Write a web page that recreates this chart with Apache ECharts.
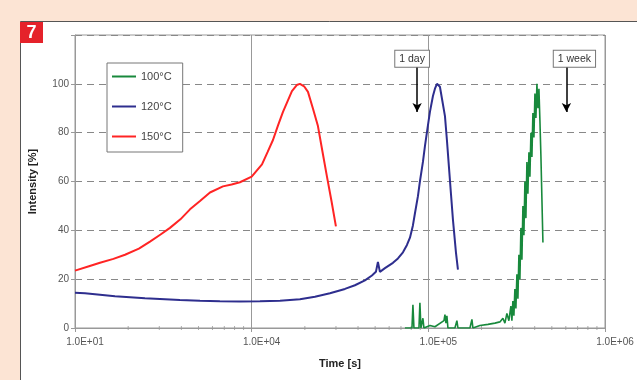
<!DOCTYPE html>
<html>
<head>
<meta charset="utf-8">
<script src="https://cdn.jsdelivr.net/npm/echarts@6/dist/echarts.min.js"></script>
<style>
html,body{margin:0;padding:0;background:#fce4d4;}
#c{width:637px;height:380px;}
</style>
</head>
<body>
<div id="c"></div>
<script>
// ---- data ----
const seriesNames = ['100°C', '120°C', '150°C'];
const seriesColors = ['#18893c', '#2e2e8e', '#ff2424'];

const time100 = [73700, 80800, 81800, 82900, 88500, 89600, 90800, 93200, 94400, 102100, 109000, 122600, 124200, 125800, 127400, 129100, 141400, 145100, 147100, 172000, 176500, 178800, 195900, 217500, 238200, 254200, 264300, 271300, 278400, 285700, 293300, 297200, 301000, 305000, 309000, 313100, 317200, 321400, 325600, 329900, 334200, 338600, 343100, 347500, 352100, 356700, 361400, 366100, 371000, 375800, 380800, 385800, 390800, 396000, 401200, 406400, 411800, 417200, 422700, 428200, 433900, 445300];
const int100 = [0, 0, 9.5, 0, 0, 10.3, 0, 4, 0, 1, 0.5, 3, 5.5, 2, 5, 0, 0, 3, 0, 0, 3.5, 0, 1, 1.5, 2, 2.5, 4, 2, 6, 3, 9, 3, 11, 5, 16, 8, 22, 12, 30, 20, 41, 28, 50, 38, 60, 45, 68, 55, 72, 62, 80, 70, 88, 78, 96, 86, 100, 90, 98, 85, 70, 35];

const time120 = [1000, 1139, 1385, 1684, 2048, 2489, 3027, 3928, 5098, 6615, 8585, 11140, 14460, 18760, 22810, 27740, 33730, 38420, 43770, 47950, 50500, 51840, 53210, 56810, 63060, 67300, 71840, 75690, 78700, 81800, 84000, 87330, 89600, 93200, 95680, 99480, 102100, 106200, 109000, 111900, 116300, 119400, 124200, 127400, 130800, 134300, 137800, 143300, 147100];
const int120 = [14.4, 14.2, 13.6, 13.0, 12.6, 12.2, 11.9, 11.5, 11.2, 11.0, 10.9, 11.0, 11.2, 11.8, 12.8, 14.2, 16.0, 17.5, 19.5, 21.5, 23, 27, 23, 24.5, 26.7, 28.5, 31, 34, 37, 42, 47, 54, 60, 68, 74.5, 83, 88.5, 95, 98, 100, 98.8, 94, 86.8, 77, 66, 55, 44.4, 31, 23.9];

const time150 = [1000, 1200, 1385, 1650, 1919, 2300, 2657, 3050, 3448, 3950, 4476, 5100, 5808, 6879, 7700, 8585, 10000, 11440, 12300, 13200, 14100, 15040, 16000, 16900, 18000, 18760, 19800, 20830, 22200, 23720, 25200, 26680, 28300, 29990];
const int150 = [23.5, 25.3, 26.7, 28.3, 30, 32.5, 35.4, 38.3, 41, 44.5, 48.6, 52, 55.5, 58, 58.8, 59.7, 62, 67, 72, 77, 83, 88.5, 93, 97, 99.5, 100, 99, 96.7, 90, 82.7, 72, 62, 52, 41.6];

const xTickValues = [1000, 10000, 100000, 1000000];
const xTickLabels = ['1.0E+01', '1.0E+04', '1.0E+05', '1.0E+06'];
const minorTickTimes = [2000, 3000, 4000, 5000, 6000, 7000, 8000, 9000, 20000, 30000, 40000, 50000, 60000, 70000, 80000, 90000, 200000, 300000, 400000, 500000, 600000, 700000, 800000, 900000];
const yMin = 0, yMax = 120, yStep = 20;

const noteTexts = ['1 day', '1 week'];
const noteTimes = [86400, 604800];
const noteArrowTop = 107, noteArrowBottom = 88.5, noteBoxLevel = 110.3;

// ---- chart ----
const FONT = '"Liberation Sans", Arial, sans-serif';
const chart = echarts.init(document.getElementById('c'), null, {renderer: 'canvas'});

function pairs(t, v) { return t.map((x, i) => [x, v[i]]); }
const dataSets = [pairs(time100, int100), pairs(time120, int120), pairs(time150, int150)];
const widths = [1.6, 2, 2];

const series = seriesNames.map((n, i) => ({
  name: n, type: 'line', data: dataSets[i], showSymbol: false, symbol: 'none',
  lineStyle: {color: seriesColors[i], width: widths[i]}, itemStyle: {color: seriesColors[i]},
  z: 3, animation: false
}));

series.push({
  name: 'minor', type: 'scatter', data: minorTickTimes.map(t => [t, 0]),
  symbol: 'rect', symbolSize: [1, 4], itemStyle: {color: '#999'}, clip: false,
  silent: true, z: 1, animation: false
});

series.push({
  name: 'notes', type: 'line', data: [], animation: false,
  markLine: {
    silent: true, symbol: ['none', 'arrow'], symbolSize: [7, 9],
    lineStyle: {color: '#000', width: 1.5, type: 'solid'}, label: {show: false},
    data: noteTimes.map(t => [{coord: [t, noteArrowTop]}, {coord: [t, noteArrowBottom]}])
  },
  markPoint: {
    silent: true, symbol: 'rect', symbolSize: 0,
    data: noteTimes.map((t, i) => ({
      coord: [t, noteBoxLevel],
      label: {
        show: true, formatter: noteTexts[i], position: 'inside',
        offset: [i === 0 ? -5 : 8, 0],
        color: '#333', fontSize: 10.5, fontFamily: FONT,
        backgroundColor: '#fff', borderColor: '#777', borderWidth: 1, padding: [3, 4, 2, 4]
      }
    }))
  }
});

chart.setOption({
  backgroundColor: 'transparent',
  animation: false,
  textStyle: {fontFamily: FONT},
  graphic: [
    {type: 'rect', shape: {x: 20.5, y: 21.5, width: 700, height: 400}, style: {fill: '#fff', stroke: '#555', lineWidth: 1}, z: -10},
    {type: 'rect', shape: {x: 20, y: 22, width: 23, height: 21}, style: {fill: '#e5222a'}, z: 10},
    {type: 'text', x: 31.5, y: 33, style: {text: '7', fill: '#fff', font: 'bold 18px ' + FONT, align: 'center', verticalAlign: 'middle'}, z: 11}
  ],
  grid: {left: 75, right: 32, top: 35, bottom: 52, show: true, borderColor: '#999', borderWidth: 1, backgroundColor: 'transparent'},
  legend: {
    data: seriesNames, orient: 'vertical', left: 107, top: 63,
    icon: 'rect', itemWidth: 24, itemHeight: 2, itemGap: 19,
    padding: [8, 11, 10, 5],
    backgroundColor: '#fff', borderColor: '#777', borderWidth: 1,
    textStyle: {color: '#444', fontSize: 11, fontFamily: FONT},
    z: 5
  },
  xAxis: {
    type: 'log', logBase: 10, min: xTickValues[0], max: xTickValues[xTickValues.length - 1],
    name: 'Time [s]', nameLocation: 'middle', nameGap: 30,
    nameTextStyle: {fontWeight: 'bold', fontSize: 11, color: '#222', fontFamily: FONT},
    axisLine: {show: true, lineStyle: {color: '#999'}},
    axisTick: {show: true, length: 4, lineStyle: {color: '#999'}},
    axisLabel: {
      color: '#555', fontSize: 10, margin: 9, padding: [0, 0, 0, 20],
      formatter: v => {
        let best = 0;
        xTickValues.forEach((t, i) => { if (Math.abs(Math.log10(t) - Math.log10(v)) < Math.abs(Math.log10(xTickValues[best]) - Math.log10(v))) best = i; });
        return xTickLabels[best];
      }
    },
    splitLine: {show: true, lineStyle: {color: '#999', width: 1}},
    minorTick: {show: false}
  },
  yAxis: {
    type: 'value', min: yMin, max: yMax, interval: yStep,
    name: 'Intensity [%]', nameLocation: 'middle', nameGap: 37, nameRotate: 90,
    nameTextStyle: {fontWeight: 'bold', fontSize: 11, color: '#222', fontFamily: FONT},
    axisLine: {show: true, lineStyle: {color: '#999'}},
    axisTick: {show: true, length: 4, lineStyle: {color: '#999'}},
    axisLabel: {color: '#555', fontSize: 10, margin: 6, formatter: v => (v === yMax ? '' : String(v))},
    splitLine: {show: true, lineStyle: {color: '#888', width: 1, type: [7, 5]}}
  },
  series: series
});
</script>
</body>
</html>
